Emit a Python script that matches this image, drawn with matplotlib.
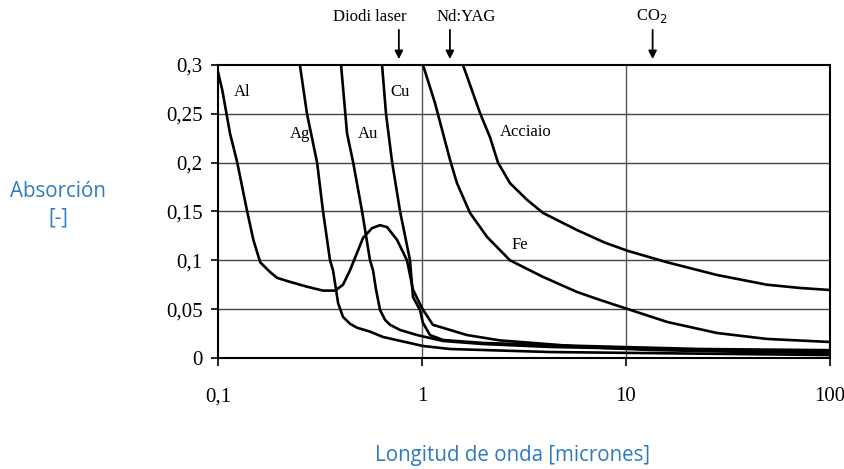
import matplotlib
matplotlib.use("Agg")
import matplotlib.pyplot as plt

# Absorptance vs wavelength (microns) for several metals
al_lam = [0.100, 0.105, 0.1145, 0.124, 0.139, 0.149, 0.161, 0.180, 0.195, 0.225,
          0.273, 0.327, 0.375, 0.410, 0.444, 0.480, 0.514, 0.569, 0.623, 0.674,
          0.754, 0.844, 0.903, 1.00, 1.13, 1.66, 2.41, 3.50, 6.15, 13.1, 40.5, 100]
al_abs = [0.293, 0.274, 0.230, 0.201, 0.150, 0.121, 0.098, 0.088, 0.082, 0.078,
          0.073, 0.069, 0.069, 0.075, 0.090, 0.1075, 0.123, 0.133, 0.136, 0.134,
          0.121, 0.100, 0.070, 0.051, 0.034, 0.0235, 0.018, 0.0154, 0.0113, 0.0082, 0.0061, 0.0051]

ag_lam = [0.252, 0.273, 0.306, 0.327, 0.354, 0.366, 0.379, 0.388, 0.410, 0.444,
          0.480, 0.556, 0.644, 1.01, 1.37, 4.24, 100]
ag_abs = [0.300, 0.250, 0.200, 0.1505, 0.100, 0.090, 0.070, 0.056, 0.042, 0.035,
          0.031, 0.027, 0.0215, 0.0123, 0.0092, 0.0061, 0.003]

au_lam = [0.401, 0.429, 0.459, 0.508, 0.556, 0.575, 0.595, 0.623, 0.659, 0.697,
          0.780, 0.945, 1.27, 1.99, 4.24, 13.1, 100]
au_abs = [0.300, 0.230, 0.201, 0.1505, 0.100, 0.090, 0.070, 0.049, 0.039, 0.034,
          0.0287, 0.0235, 0.0174, 0.0143, 0.0113, 0.0092, 0.0065]

cu_lam = [0.637, 0.666, 0.713, 0.780, 0.873, 0.903, 0.978, 1.01, 1.094, 1.27,
          1.99, 6.15, 23.1, 100]
cu_abs = [0.300, 0.250, 0.201, 0.1505, 0.100, 0.0625, 0.049, 0.036, 0.0235, 0.0184,
          0.0154, 0.0123, 0.0092, 0.008]

fe_lam = [1.011, 1.158, 1.371, 1.484, 1.719, 2.083, 2.699, 3.92, 5.75, 7.46,
          10.23, 15.9, 27.9, 49.1, 100]
fe_abs = [0.300, 0.261, 0.203, 0.179, 0.1485, 0.124, 0.100, 0.083, 0.0676, 0.0594,
          0.050, 0.0369, 0.0256, 0.0195, 0.0164]

steel_lam = [1.588, 1.923, 2.154, 2.358, 2.699, 3.27, 3.92, 5.75, 7.89, 10.23,
             15.9, 27.9, 49.1, 71.3, 100]
steel_abs = [0.300, 0.251, 0.226, 0.200, 0.179, 0.162, 0.1485, 0.131, 0.118, 0.1096,
             0.098, 0.085, 0.075, 0.0717, 0.0696]

# Laser sources marked above the plot
laser_names = ["Diodi laser", "Nd:YAG", "CO$_2$"]
laser_lam = [0.77, 1.37, 13.5]

y_ticks = [0, 0.05, 0.1, 0.15, 0.2, 0.25, 0.3]
y_labels = ["0", "0,05", "0,1", "0,15", "0,2", "0,25", "0,3"]
x_ticks = [0.1, 1, 10, 100]
x_labels = ["0,1", "1", "10", "100"]

serif = "Liberation Serif"
blue = "#2d7bbd"

fig = plt.figure(figsize=(8.45, 4.69), dpi=100)
ax = fig.add_axes([0.258, 0.2367, 0.7243, 0.6247])

ax.set_xscale("log")
ax.set_xlim(0.1, 100)
ax.set_ylim(0, 0.3)

# grid: horizontal at every tick, vertical only at decades 1 and 10
for y in y_ticks[1:-1]:
    ax.axhline(y, color="#444444", lw=1.0, zorder=1)
for x in [1, 10]:
    ax.axvline(x, color="#555555", lw=1.0, zorder=1)

for lam, a in [(al_lam, al_abs), (ag_lam, ag_abs), (au_lam, au_abs),
               (cu_lam, cu_abs), (fe_lam, fe_abs), (steel_lam, steel_abs)]:
    ax.plot(lam, a, color="black", lw=1.9, solid_joinstyle="round",
            solid_capstyle="round", zorder=3, clip_on=True)

for s in ax.spines.values():
    s.set_linewidth(1.5)
    s.set_color("black")

ax.set_yticks(y_ticks)
ax.set_yticklabels(y_labels, fontfamily=serif, fontsize=15)
ax.set_xticks(x_ticks)
ax.set_xticklabels(x_labels, fontfamily=serif, fontsize=15)
ax.xaxis.set_minor_locator(matplotlib.ticker.NullLocator())
ax.tick_params(axis="y", length=5, width=1.2, pad=6)
ax.tick_params(axis="x", length=6, width=1.2, pad=15)

# curve labels
labels = [("Al", 0.119, 0.272), ("Ag", 0.225, 0.229), ("Au", 0.487, 0.229),
          ("Cu", 0.697, 0.272), ("Acciaio", 2.41, 0.231), ("Fe", 2.76, 0.116)]
for txt, x, y in labels:
    ax.text(x, y, txt, fontfamily=serif, fontsize=12, ha="left", va="center", zorder=4)

# laser wavelength arrows
for lam in laser_lam:
    ax.annotate("", xy=(lam, 1.02), xycoords=("data", "axes fraction"),
                xytext=(lam, 1.12), textcoords=("data", "axes fraction"),
                arrowprops=dict(arrowstyle="-|>", color="black", lw=1.3,
                                mutation_scale=12, shrinkA=0, shrinkB=0),
                annotation_clip=False)
label_x = [0.556, 1.64, 13.3]
for name, lx in zip(laser_names, label_x):
    ax.text(lx, 1.135, name, transform=ax.get_xaxis_transform(),
            fontfamily=serif, fontsize=12, ha="center", va="bottom")

# axis titles
fig.text(58 / 845, 1 - 205 / 469, "Absorción\n[-]", color=blue, fontsize=14.8,
         fontfamily="Open Sans", ha="center", va="center", linespacing=1.35)
fig.text(513 / 845, 1 - 455 / 469, "Longitud de onda [micrones]", color=blue,
         fontsize=14.8, fontfamily="Open Sans", ha="center", va="center")

fig.savefig("out.png", dpi=100)
